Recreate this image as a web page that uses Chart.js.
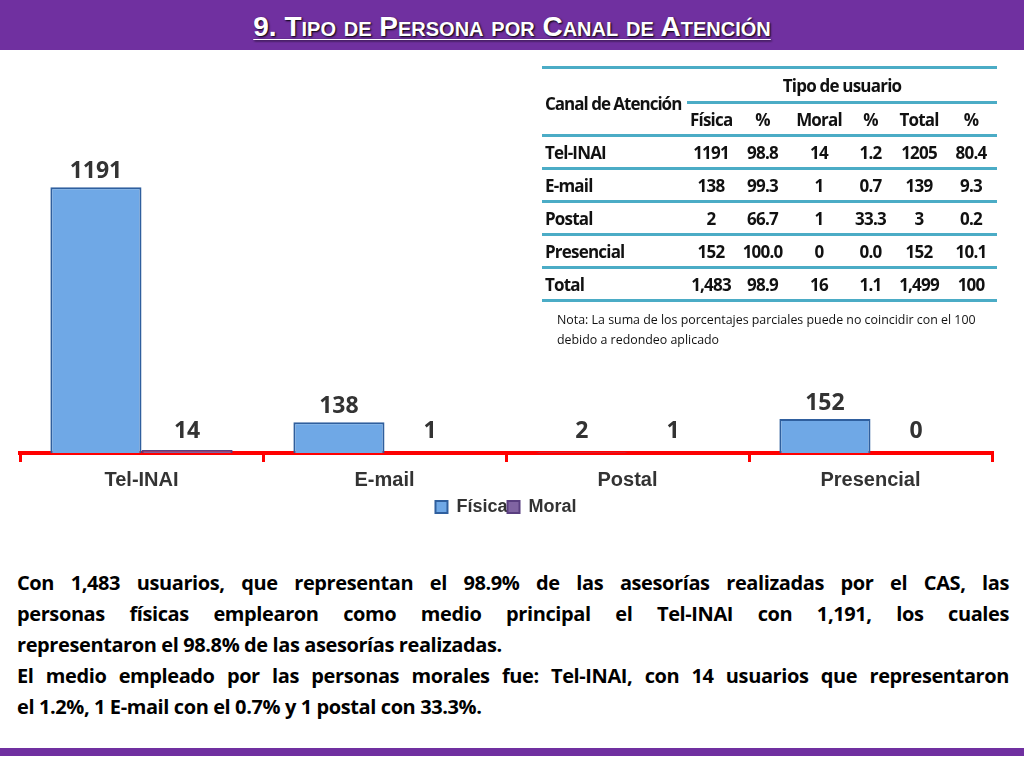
<!DOCTYPE html>
<html><head><meta charset="utf-8">
<script src="https://cdn.jsdelivr.net/npm/chart.js@4"></script>
<style>
body{margin:0;width:1024px;height:768px;position:relative;background:#fff;font-family:"Open Sans",sans-serif;overflow:hidden}
.head{position:absolute;left:0;top:0;width:1024px;height:50px;background:#7030a0}
.head h1{margin:0;text-align:center;color:#fff;font:bold 28px "Liberation Sans",Arial,sans-serif;font-variant:small-caps;line-height:54px;text-decoration:underline;text-decoration-thickness:1px;text-underline-offset:3px;text-shadow:1px 1px 2px #000}
.foot{position:absolute;left:0;top:748px;width:1024px;height:8px;background:#7030a0}
#wrap{position:absolute;left:0;top:144px;width:1010px;height:382px}
table{position:absolute;left:542px;top:66px;width:455px;border-collapse:collapse;font:bold 17px "Open Sans",sans-serif;color:#111;letter-spacing:-0.8px;table-layout:fixed}
td,th{text-align:center;padding:0;height:30px}
td:first-child,th:first-child{text-align:left;padding-left:3px;white-space:nowrap}
.b{border-top:3px solid #4bacc6}
.nota{position:absolute;left:557px;top:310px;width:440px;font:12.4px "Open Sans",sans-serif;color:#111;line-height:20px}
.txt{position:absolute;left:17px;top:567px;width:992px;font:bold 20px "Open Sans",sans-serif;color:#000;line-height:31px;letter-spacing:-0.4px}
.txt div{text-align:justify;text-align-last:justify}
.txt div.l{text-align-last:left}
</style></head><body>
<div class="head"><h1>9. Tipo de Persona por Canal de Atención</h1></div>
<div id="wrap"><canvas id="c"></canvas></div>
<table>
<colgroup><col style="width:145px"><col style="width:48px"><col style="width:55px"><col style="width:58px"><col style="width:45px"><col style="width:52px"><col style="width:52px"></colgroup>
<tr class="b"><th rowspan="2" style="vertical-align:middle;padding-top:4px;letter-spacing:-1px">Canal de Atención</th><th colspan="6" style="border-bottom:3px solid #4bacc6;height:32px">Tipo de usuario</th></tr>
<tr><th>Física</th><th>%</th><th>Moral</th><th>%</th><th>Total</th><th>%</th></tr>
<tbody id="tb"></tbody>
</table>
<div class="nota">Nota: La suma de los porcentajes parciales puede no coincidir con el 100 debido a redondeo aplicado</div>
<div class="txt">
<div>Con 1,483 usuarios, que representan el 98.9% de las asesorías realizadas por el CAS, las</div>
<div>personas físicas emplearon como medio principal el Tel-INAI con 1,191, los cuales</div>
<div class="l">representaron el 98.8% de las asesorías realizadas.</div>
<div>El medio empleado por las personas morales fue: Tel-INAI, con 14 usuarios que representaron</div>
<div class="l">el 1.2%, 1 E-mail con el 0.7% y 1 postal con 33.3%.</div>
</div>
<div class="foot"></div>
<script>
const categories = ["Tel-INAI", "E-mail", "Postal", "Presencial"];
const fisica = [1191, 138, 2, 152];
const moral = [14, 1, 1, 0];
const tableRows = [
  ["Tel-INAI", "1191", "98.8", "14", "1.2", "1205", "80.4"],
  ["E-mail", "138", "99.3", "1", "0.7", "139", "9.3"],
  ["Postal", "2", "66.7", "1", "33.3", "3", "0.2"],
  ["Presencial", "152", "100.0", "0", "0.0", "152", "10.1"],
  ["Total", "1,483", "98.9", "16", "1.1", "1,499", "100"]
];

const tb = document.getElementById("tb");
tableRows.forEach((r, i) => {
  const tr = document.createElement("tr");
  tr.className = "b";
  r.forEach(v => { const td = document.createElement("td"); td.textContent = v; tr.appendChild(td) });
  if (i == tableRows.length - 1) tr.style.borderBottom = "3px solid #4bacc6";
  tb.appendChild(tr);
});

const labelsPlugin = {
  id: "vals",
  afterDatasetsDraw(chart) {
    const ctx = chart.ctx;
    ctx.save();
    ctx.fillStyle = "#333";
    ctx.font = "bold 23px 'Open Sans'";
    ctx.textAlign = "center";
    chart.data.datasets.forEach((ds, di) => {
      chart.getDatasetMeta(di).data.forEach((bar, i) => {
        ctx.fillText(ds.data[i], bar.x, Math.min(bar.y, chart.chartArea.bottom - 6) - 16);
      });
    });
    ctx.restore();
  }
};

new Chart(document.getElementById("c"), {
  type: "bar",
  data: {
    labels: categories,
    datasets: [
      { label: "Física", data: fisica, backgroundColor: "#6fa8e6", borderColor: "#2f5f9e", borderWidth: 2 },
      { label: "Moral", data: moral, backgroundColor: "#8064a2", borderColor: "#5a3f80", borderWidth: 2 }
    ]
  },
  options: {
    responsive: true, maintainAspectRatio: false, animation: false,
    categoryPercentage: 0.75, barPercentage: 1.0,
    layout: { padding: { left: 20, right: 18, top: 30 } },
    plugins: {
      legend: { position: "bottom", labels: { color: "#333", font: { size: 18, weight: "bold" }, boxWidth: 12, boxHeight: 12, padding: 0 } },
      tooltip: { enabled: false }
    },
    scales: {
      y: { display: false, min: 0, max: 1250 },
      x: {
        border: { color: "#ff0000", width: 4 },
        grid: { offset: true, drawOnChartArea: false, color: "#ff0000", lineWidth: 3, tickLength: 9 },
        ticks: { color: "#333", font: { size: 20, weight: "bold" }, padding: 6 }
      }
    }
  },
  plugins: [labelsPlugin]
});
</script>
</body></html>
